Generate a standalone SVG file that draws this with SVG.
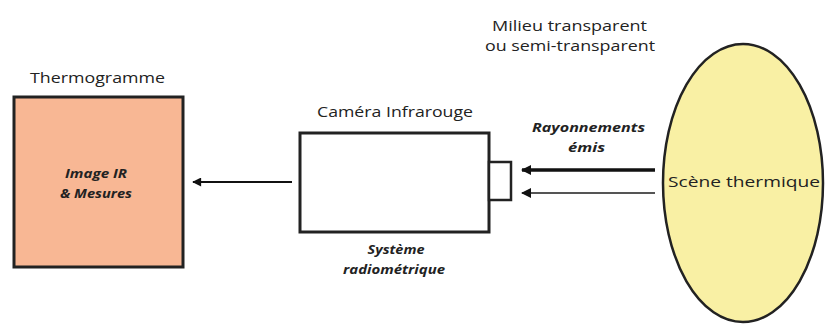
<svg xmlns="http://www.w3.org/2000/svg" width="825" height="324" viewBox="0 0 825 324">
<defs>
<marker id="ah" viewBox="0 0 10 10" refX="9" refY="5" markerWidth="12" markerHeight="9" markerUnits="userSpaceOnUse" orient="auto"><path d="M0,0 L10,5 L0,10 z" fill="#111"/></marker>
<marker id="ah2" viewBox="0 0 10 10" refX="9" refY="5" markerWidth="14" markerHeight="10" markerUnits="userSpaceOnUse" orient="auto"><path d="M0,0 L10,5 L0,10 z" fill="#111"/></marker>
</defs>
<style>
text{font-family:"Open Sans","Liberation Sans",sans-serif;fill:#222;}
.lbl{font-size:15px;}
.it{font-size:12px;font-style:italic;font-weight:bold;}
.box{stroke:#222;stroke-width:3;}
</style>
<rect width="825" height="324" fill="#fff"/>
<text class="lbl" x="492" y="31" textLength="155" lengthAdjust="spacingAndGlyphs">Milieu transparent</text>
<text class="lbl" x="485" y="51" textLength="170" lengthAdjust="spacingAndGlyphs">ou semi-transparent</text>
<g id="thermogramme">
<text class="lbl" x="30" y="83" textLength="135" lengthAdjust="spacingAndGlyphs">Thermogramme</text>
<rect class="box" x="14" y="97" width="169" height="170" fill="#f8b794"/>
<text class="it" x="96" y="178" text-anchor="middle" textLength="62" lengthAdjust="spacingAndGlyphs">Image IR</text>
<text class="it" x="96" y="198" text-anchor="middle" textLength="72" lengthAdjust="spacingAndGlyphs">&amp; Mesures</text>
</g>
<g id="camera">
<text class="lbl" x="317" y="117" textLength="156" lengthAdjust="spacingAndGlyphs">Caméra Infrarouge</text>
<rect class="box" x="300" y="133" width="189" height="99" fill="#fff" stroke-width="2.5"/>
<rect x="489" y="162" width="22" height="38" fill="#fff" stroke="#222" stroke-width="2.5"/>
<text class="it" x="396" y="254" text-anchor="middle" textLength="57" lengthAdjust="spacingAndGlyphs">Système</text>
<text class="it" x="394" y="274" text-anchor="middle" textLength="102" lengthAdjust="spacingAndGlyphs">radiométrique</text>
</g>
<g id="scene">
<ellipse cx="743" cy="183" rx="80" ry="139" fill="#f9f0a4" stroke="#222" stroke-width="2.5"/>
<text class="lbl" x="668" y="187" textLength="152" lengthAdjust="spacingAndGlyphs">Scène thermique</text>
</g>
<g id="connectors">
<line x1="292" y1="182" x2="193" y2="182" stroke="#111" stroke-width="2" marker-end="url(#ah)"/>
<line x1="655" y1="170" x2="522" y2="170" stroke="#111" stroke-width="3.5" marker-end="url(#ah2)"/>
<line x1="655" y1="193" x2="522" y2="193" stroke="#555" stroke-width="2" marker-end="url(#ah2)"/>
<text class="it" x="532" y="132" textLength="113" lengthAdjust="spacingAndGlyphs">Rayonnements</text>
<text class="it" x="568" y="152" textLength="37" lengthAdjust="spacingAndGlyphs">émis</text>
</g>
</svg>
